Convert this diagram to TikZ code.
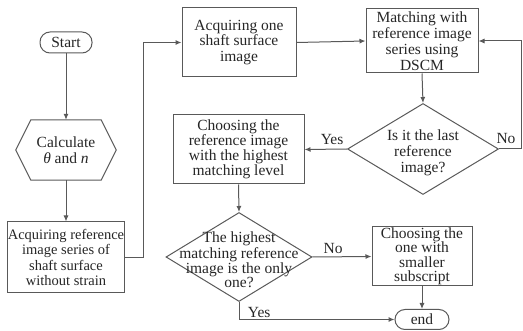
\documentclass[tikz,border=0pt]{standalone}
\usepackage{fontspec}
\setmainfont{Liberation Serif}
\usetikzlibrary{shapes.geometric,arrows.meta,calc}
\begin{document}
\begin{tikzpicture}[x=1pt,y=-1pt,
  every node/.style={font=\fontsize{15.5}{15.5}\selectfont, text=black!85, inner sep=0pt, align=center},
  box/.style={draw=black!65, line width=1pt, rectangle},
  term/.style={draw=black!65, line width=1pt, rectangle, rounded corners=10pt},
  dia/.style={draw=black!65, line width=1pt, diamond},
  arr/.style={draw=black!65, line width=1pt, -{Latex[length=6pt,width=5pt]}},
  ln/.style={draw=black!65, line width=1pt},
  lab/.style={font=\fontsize{15.5}{15.5}\selectfont}]
\useasboundingbox (0,0) rectangle (523,331);
\node[term, minimum width=52pt, minimum height=21pt] (start) at (66,42.5) {Start};
\node[minimum width=100pt, minimum height=60pt] (calc) at (66,150) {Calculate\\\textit{θ} and \textit{n}};
\draw[ln] (calc.west) -- ($(calc.north west)+(15,0)$) -- ($(calc.north east)+(-15,0)$) -- (calc.east)
  -- ($(calc.south east)+(-15,0)$) -- ($(calc.south west)+(15,0)$) -- cycle;
\node[box, minimum width=116pt, minimum height=71pt, font=\fontsize{14.5}{15.5}\selectfont] (acqref) at (66,257.5) {Acquiring reference\\image series of\\shaft surface\\without strain};
\node[box, minimum width=114pt, minimum height=69pt] (acqone) at (239,42.5) {Acquiring one\\shaft surface\\image};
\node[box, minimum width=112pt, minimum height=64pt, font=\fontsize{15.5}{16}\selectfont] (match) at (422,41) {Matching with\\reference image\\series using\\DSCM};
\node[dia, minimum width=151pt, minimum height=91pt, label={[yshift=-4pt, font=\fontsize{15.5}{16}\selectfont]center:{Is it the last\\reference\\image?}}] (last) at (423,149) {};
\node[box, minimum width=131pt, minimum height=69pt, font=\fontsize{15.5}{15}\selectfont] (choose) at (238.5,149.5) {Choosing the\\reference image\\with the highest\\matching level};
\node[dia, minimum width=146pt, minimum height=89pt, label={[yshift=-3pt, font=\fontsize{15.5}{13}\selectfont]center:{The highest\\matching reference\\image is the only\\one?}}] (high) at (239,257) {};
\node[box, minimum width=100pt, minimum height=59pt, font=\fontsize{15.5}{14.5}\selectfont] (small) at (422,256.5) {Choosing the\\one with\\smaller\\subscript};
\node[term, minimum width=54pt, minimum height=20pt] (end) at (422,319.5) {end};
\coordinate (j1) at (143,0);
\coordinate (j2) at (521.5,0);
\draw[arr] (start.south) -- (calc.north);
\draw[arr] (calc.south) -- (acqref.north);
\draw[arr] (acqref.east) -- (acqref.east -| j1) |- (acqone.west);
\draw[arr] (acqone.east) -- (match.west);
\draw[arr] (match.south) -- (last.north);
\draw[arr] (last.east) -- (last.east -| j2) |- (match.east);
\draw[arr] (last.west) -- node[lab, above=4pt, pos=0.35] {Yes} (choose.east);
\draw[arr] (choose.south) -- (high.north);
\draw[arr] (high.east) -- node[lab, above=3pt, pos=0.35] {No} (small.west);
\draw[arr] (small.south) -- (end.north);
\draw[arr] (high.south) |- node[lab, above=1.5pt, pos=0.565] {Yes} (end.west);
\node[lab] (nolab) at (506,139) {No};
\end{tikzpicture}
\end{document}
